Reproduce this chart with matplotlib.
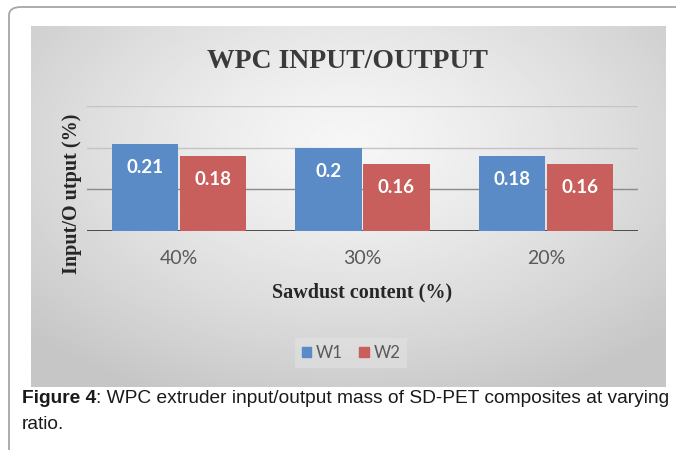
import numpy as np
import matplotlib.pyplot as plt
from matplotlib.patches import FancyBboxPatch, Patch

categories = ["40%", "30%", "20%"]
w1 = [0.21, 0.20, 0.18]
w2 = [0.18, 0.16, 0.16]
labels_w1 = ["0.21", "0.2", "0.18"]
labels_w2 = ["0.18", "0.16", "0.16"]
yticks = [0.0, 0.1, 0.2, 0.3]

W, H = 676, 450
fig = plt.figure(figsize=(W / 100, H / 100), dpi=100)
fig.patch.set_facecolor("white")

# outer rounded frame
frame = FancyBboxPatch((9 / W, -0.2), 1.2, 1 - 7 / H + 0.2,
                       boxstyle="round,pad=0,rounding_size=0.018",
                       transform=fig.transFigure, facecolor="none",
                       edgecolor="#a6a6a6", linewidth=1.3, zorder=0)
fig.patches.append(frame)

# gray radial-gradient chart background
bg = fig.add_axes([31 / W, 1 - 387 / H, (666 - 31) / W, (387 - 26) / H])
gx, gy = np.meshgrid(np.linspace(-1, 1, 300), np.linspace(-1, 1, 200))
r = np.sqrt((gx / 1.0) ** 2 + ((gy + 0.35) / 1.1) ** 2)
shade = 0.965 - 0.19 * np.clip(r, 0, 1.4) ** 1.3 / 1.4 ** 1.3
bg.imshow(shade, cmap="gray", vmin=0, vmax=1, aspect="auto",
          extent=[0, 1, 0, 1], origin="upper")
bg.axis("off")

ax = fig.add_axes([87 / W, 1 - 231 / H, (638 - 87) / W, (231 - 106) / H])
ax.patch.set_alpha(0)
x = np.arange(len(categories))
bw = 0.36
off = 0.185
for y in yticks:
    col = "#404040" if y == 0 else ("#8a8a8a" if y == 0.1 else "#c4c4c4")
    ax.axhline(y, color=col, linewidth=1.0 if y else 1.3, zorder=1)

b1 = ax.bar(x - off, w1, bw, color="#5b8bc7", zorder=2, label="W1")
b2 = ax.bar(x + off, w2, bw, color="#c95f5c", zorder=2, label="W2")
for bars, labs in ((b1, labels_w1), (b2, labels_w2)):
    for rect, lab in zip(bars, labs):
        ax.annotate(lab, (rect.get_x() + rect.get_width() / 2, rect.get_height()),
                    xytext=(0, -17), textcoords="offset points",
                    ha="center", va="center", color="white",
                    fontsize=13.5, fontweight="bold", family="Lato", zorder=3)

ax.set_xlim(-0.5, 2.5)
ax.set_ylim(0, 0.3)
ax.set_xticks(x)
ax.set_xticklabels(categories, family="Lato", fontsize=14, color="#595959")
ax.set_yticks([])
ax.tick_params(axis="x", length=0, pad=14)
for s in ax.spines.values():
    s.set_visible(False)

fig.text(347 / W, 1 - 62 / H, "WPC INPUT/OUTPUT", ha="center", va="center",
         family="Liberation Serif", fontweight="bold", fontsize=20, color="#3a3a3a")
fig.text(362 / W, 1 - 292 / H, "Sawdust content (%)", ha="center", va="center",
         family="Liberation Serif", fontweight="bold", fontsize=14.5, color="#262626")
fig.text(72 / W, 1 - 194 / H, "Input/O utput (%)", ha="center", va="center",
         rotation=90, family="Liberation Serif", fontweight="bold",
         fontsize=14.5, color="#262626")

handles = [Patch(color="#5b8bc7", label="W1"), Patch(color="#c95f5c", label="W2")]
fig.legend(handles=handles, loc="center", bbox_to_anchor=(351 / W, 1 - 353 / H),
           ncol=2, frameon=True, facecolor="#e2e2e2", edgecolor="none",
           framealpha=0.6, handlelength=0.55, handleheight=0.55, handletextpad=0.3,
           columnspacing=1.0, prop={"family": "Lato", "size": 12}, labelcolor="#595959",
           fancybox=False)

t1 = fig.text(22 / W, 1 - 403 / H, "Figure 4", ha="left", va="baseline",
              family="Liberation Sans", fontweight="bold", fontsize=13.75, color="#1a1a1a")
ax.annotate(": WPC extruder input/output mass of SD-PET composites at varying",
            xy=(1, 0), xycoords=t1, va="bottom", ha="left", annotation_clip=False,
            family="Liberation Sans", fontsize=13.75, color="#1a1a1a")
fig.text(22 / W, 1 - 429 / H, "ratio.", ha="left", va="baseline",
         family="Liberation Sans", fontsize=13.75, color="#1a1a1a")

fig.savefig("out.png", dpi=100)
